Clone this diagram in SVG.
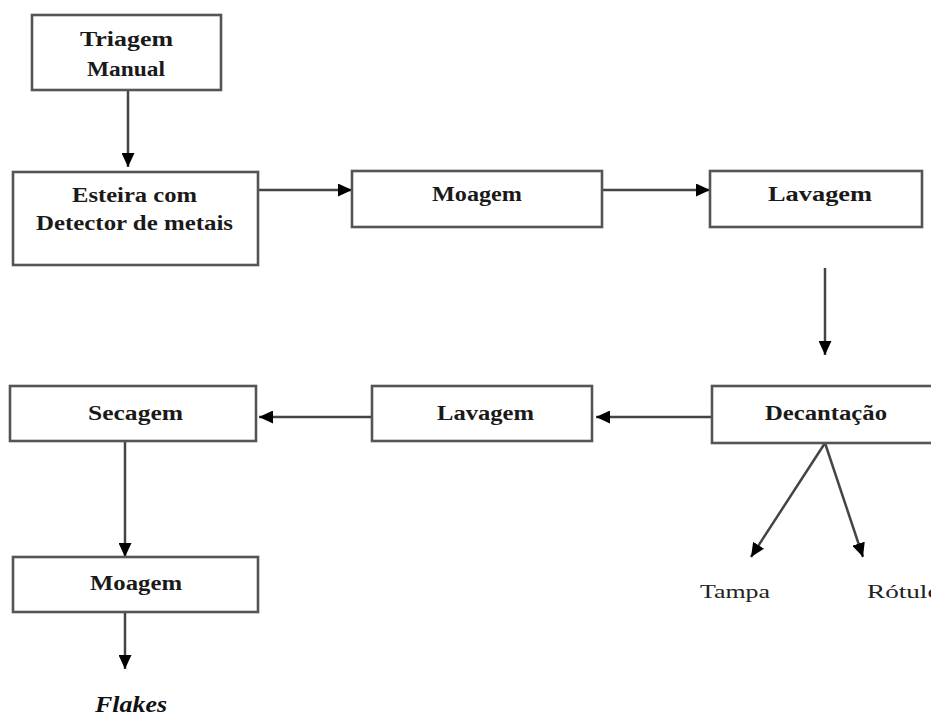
<svg xmlns="http://www.w3.org/2000/svg" width="931" height="718" viewBox="0 0 931 718">
<style>
.box{fill:#fff;stroke:#555;stroke-width:2.6}
.lbl{font-family:"Liberation Serif","DejaVu Serif",serif;font-weight:bold;font-size:20px;fill:#1a1a1a;text-anchor:start}
.out{font-family:"Liberation Serif","DejaVu Serif",serif;font-size:19px;fill:#222}
.fl{font-family:"Liberation Serif","DejaVu Serif",serif;font-size:24px;font-weight:bold;font-style:italic;fill:#111}
.c{stroke:#444;stroke-width:2.5;fill:none;marker-end:url(#ah)}
</style>
<defs>
<marker id="ah" markerUnits="userSpaceOnUse" markerWidth="15" markerHeight="13" refX="14" refY="6.5" orient="auto">
<path d="M0,0 L14,6.5 L0,13 z" fill="#000"/>
</marker>
</defs>
<rect width="931" height="718" fill="#fff"/>
<g id="connectors">
<line class="c" x1="128" y1="90" x2="128" y2="167"/>
<line class="c" x1="258" y1="190" x2="352" y2="190"/>
<line class="c" x1="602" y1="190" x2="710" y2="190"/>
<line class="c" x1="825" y1="268" x2="825" y2="355"/>
<line class="c" x1="712" y1="417" x2="596" y2="417"/>
<line class="c" x1="372" y1="417" x2="259" y2="417"/>
<line class="c" x1="125" y1="441" x2="125" y2="557"/>
<line class="c" x1="125" y1="612" x2="125" y2="669"/>
<line class="c" x1="825" y1="443" x2="751" y2="557"/>
<line class="c" x1="825" y1="443" x2="863" y2="557"/>
</g>
<g id="triagem">
<rect class="box" x="32" y="15" width="189" height="75"/>
<text class="lbl" x="80" y="46" textLength="93" lengthAdjust="spacingAndGlyphs">Triagem</text>
<text class="lbl" x="87" y="76" textLength="78" lengthAdjust="spacingAndGlyphs">Manual</text>
</g>
<g id="esteira">
<rect class="box" x="13" y="172" width="245" height="93"/>
<text class="lbl" x="72" y="202" textLength="125" lengthAdjust="spacingAndGlyphs">Esteira com</text>
<text class="lbl" x="36" y="230" textLength="197" lengthAdjust="spacingAndGlyphs">Detector de metais</text>
</g>
<g id="moagem1">
<rect class="box" x="352" y="171" width="250" height="56"/>
<text class="lbl" x="432" y="201" textLength="90" lengthAdjust="spacingAndGlyphs">Moagem</text>
</g>
<g id="lavagem1">
<rect class="box" x="710" y="171" width="212" height="56"/>
<text class="lbl" x="768" y="201" textLength="104" lengthAdjust="spacingAndGlyphs">Lavagem</text>
</g>
<g id="decantacao">
<rect class="box" x="712" y="386" width="225" height="57"/>
<text class="lbl" x="765" y="420" textLength="122" lengthAdjust="spacingAndGlyphs">Decantação</text>
</g>
<g id="lavagem2">
<rect class="box" x="372" y="386" width="220" height="55"/>
<text class="lbl" x="437" y="420" textLength="97" lengthAdjust="spacingAndGlyphs">Lavagem</text>
</g>
<g id="secagem">
<rect class="box" x="10" y="386" width="246" height="55"/>
<text class="lbl" x="88" y="420" textLength="95" lengthAdjust="spacingAndGlyphs">Secagem</text>
</g>
<g id="moagem2">
<rect class="box" x="13" y="557" width="245" height="55"/>
<text class="lbl" x="90" y="590" textLength="92" lengthAdjust="spacingAndGlyphs">Moagem</text>
</g>
<g id="flakes">
<text class="fl" x="95" y="712" textLength="72" lengthAdjust="spacingAndGlyphs">Flakes</text>
</g>
<g id="tampa">
<text class="out" x="700" y="598" textLength="70" lengthAdjust="spacingAndGlyphs">Tampa</text>
</g>
<g id="rotulo">
<text class="out" x="867" y="598" textLength="74" lengthAdjust="spacingAndGlyphs">Rótulo</text>
</g>
</svg>
